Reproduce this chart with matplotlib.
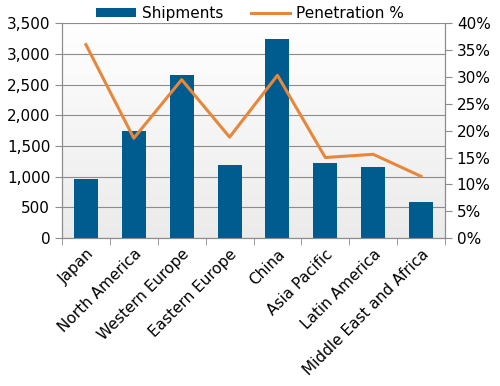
import numpy as np
import matplotlib
matplotlib.use("Agg")
import matplotlib.pyplot as plt
from matplotlib.ticker import FuncFormatter, MultipleLocator

# data
regions = ["Japan", "North America", "Western Europe", "Eastern Europe",
           "China", "Asia Pacific", "Latin America", "Middle East and Africa"]
shipments = [967, 1737, 2649, 1183, 3235, 1216, 1156, 581]
penetration = [36.0, 18.6, 29.5, 18.8, 30.3, 15.0, 15.6, 11.5]

bar_color = "#005b8f"
line_color = "#e8873a"
grid_color = "#8c8c8c"

plt.rcParams["font.family"] = ["DejaVu Sans"]
plt.rcParams["font.size"] = 11

fig = plt.figure(figsize=(5.0, 3.86), dpi=100)
ax = fig.add_axes([0.124, 0.383, 0.766, 0.557])

x = np.arange(len(regions))

# plot area gradient: white at top, light grey at bottom
grad = np.linspace(1.0, 0.0, 256).reshape(-1, 1)
ax.imshow(grad, cmap=plt.matplotlib.colors.LinearSegmentedColormap.from_list(
    "bg", ["#ebebeb", "#ffffff"]), aspect="auto",
    extent=[-0.5, len(regions) - 0.5, 0, 3500], zorder=0)

ax.bar(x, shipments, width=0.5, color=bar_color, zorder=3, label="Shipments")
ax.set_xlim(-0.5, len(regions) - 0.5)
ax.set_ylim(0, 3500)
ax.yaxis.set_major_locator(MultipleLocator(500))
ax.yaxis.set_major_formatter(FuncFormatter(lambda v, p: f"{int(v):,}"))
ax.grid(axis="y", color=grid_color, linewidth=0.8, zorder=1)
ax.set_axisbelow(True)

ax.set_xticks(x)
ax.set_xticklabels(regions, rotation=45, ha="right", rotation_mode="anchor")
ax.set_xticks(np.arange(-0.5, len(regions)), minor=True)
ax.tick_params(axis="x", which="major", length=0, pad=6)
ax.tick_params(axis="x", which="minor", length=5, color=grid_color)
ax.tick_params(axis="y", length=5, color=grid_color)

ax2 = ax.twinx()
ax2.plot(x, penetration, color=line_color, linewidth=2.2, zorder=4,
         label="Penetration %")
ax2.set_ylim(0, 40)
ax2.yaxis.set_major_locator(MultipleLocator(5))
ax2.yaxis.set_major_formatter(FuncFormatter(lambda v, p: f"{int(v)}%"))
ax2.tick_params(axis="y", length=5, color=grid_color)

for a in (ax, ax2):
    for side in ("left", "right", "bottom"):
        a.spines[side].set_color(grid_color)
    a.spines["top"].set_visible(False)

h1, l1 = ax.get_legend_handles_labels()
h2, l2 = ax2.get_legend_handles_labels()
fig.legend(h1 + h2, l1 + l2, loc="upper center", ncol=2,
           bbox_to_anchor=(0.5, 1.02), frameon=False,
           handlelength=2.6, handleheight=0.6, columnspacing=1.8,
           handletextpad=0.4)

fig.savefig("out.png", dpi=100)
